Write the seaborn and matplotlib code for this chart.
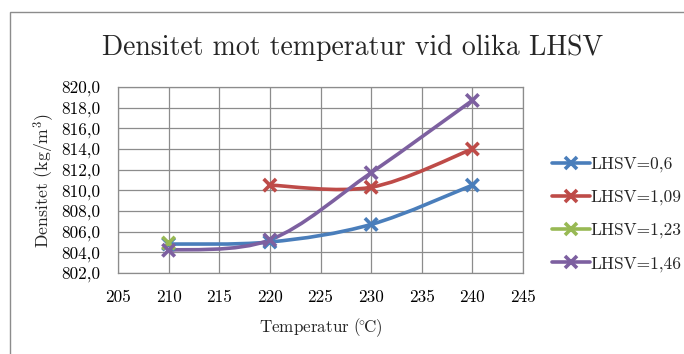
import matplotlib
matplotlib.use("Agg")
import matplotlib.pyplot as plt
from matplotlib.path import Path
from matplotlib.patches import PathPatch, Rectangle
from matplotlib.lines import Line2D
from matplotlib.ticker import FuncFormatter, MultipleLocator
import numpy as np
import pandas as pd
import seaborn as sns

# Measured densities per LHSV setting
temp_06 = [210, 220, 230, 240]
dens_06 = [804.8, 805.0, 806.7, 810.5]
temp_109 = [220, 230, 240]
dens_109 = [810.5, 810.3, 814.0]
temp_123 = [210]
dens_123 = [804.9]
temp_146 = [210, 220, 230, 240]
dens_146 = [804.2, 805.2, 811.7, 818.7]

labels = ["LHSV=0,6", "LHSV=1,09", "LHSV=1,23", "LHSV=1,46"]
colors = ["#4A7EBB", "#BE4B48", "#98B954", "#7D60A0"]

frames = []
for lab, t, d in zip(labels, [temp_06, temp_109, temp_123, temp_146],
                     [dens_06, dens_109, dens_123, dens_146]):
    frames.append(pd.DataFrame({"Temperatur": t, "Densitet": d, "Serie": lab}))
df = pd.concat(frames, ignore_index=True)

sns.set_theme(style="white")
plt.rcParams["font.family"] = ["cmr10"]
plt.rcParams["mathtext.fontset"] = "cm"
plt.rcParams["axes.formatter.use_mathtext"] = True
plt.rcParams["axes.unicode_minus"] = False

fig = plt.figure(figsize=(6.84, 3.54), dpi=100)
W, H = 684, 354
ax = fig.add_axes([118 / W, 1 - 273 / H, (523 - 118) / W, (273 - 87) / H])

# outer chart frame
fig.add_artist(Rectangle((10 / W, -0.2), 1.2, 1 - 12 / H + 0.2,
                         transform=fig.transFigure, fill=False,
                         edgecolor="#8C8C8C", lw=1.0))


def smooth_path(xs, ys):
    """Cardinal (Catmull-Rom) Bezier path through the points."""
    pts = np.column_stack([xs, ys]).astype(float)
    n = len(pts)
    verts = [pts[0]]
    codes = [Path.MOVETO]
    for i in range(n - 1):
        p0 = pts[i - 1] if i > 0 else pts[i]
        p1 = pts[i]
        p2 = pts[i + 1]
        p3 = pts[i + 2] if i + 2 < n else pts[i + 1]
        c1 = p1 + (p2 - p0) / 6.0
        c2 = p2 - (p3 - p1) / 6.0
        verts += [c1, c2, p2]
        codes += [Path.CURVE4] * 3
    return Path(verts, codes)


# smoothed connecting lines
for lab, col in zip(labels, colors):
    sub = df[df["Serie"] == lab]
    if len(sub) > 1:
        ax.add_patch(PathPatch(smooth_path(sub["Temperatur"], sub["Densitet"]),
                               fill=False, edgecolor=col, lw=2.6,
                               capstyle="round", joinstyle="round", zorder=3))

# markers
sns.scatterplot(data=df, x="Temperatur", y="Densitet", hue="Serie",
                palette=colors, hue_order=labels, marker="x", s=80,
                linewidth=2.6, ax=ax, legend=False, zorder=4)

ax.set_xlim(205, 245)
ax.set_ylim(802, 820)
ax.xaxis.set_major_locator(MultipleLocator(5))
ax.yaxis.set_major_locator(MultipleLocator(2))
ax.xaxis.set_major_formatter(FuncFormatter(lambda v, p: f"{v:.0f}"))
ax.yaxis.set_major_formatter(FuncFormatter(lambda v, p: f"{v:.1f}".replace(".", ",")))
ax.grid(True, color="#8C8C8C", lw=0.9)
ax.set_axisbelow(True)
for s in ax.spines.values():
    s.set_color("#8C8C8C")
    s.set_linewidth(0.9)
ax.tick_params(axis="both", length=0, labelsize=12.3, colors="black")
ax.tick_params(axis="x", pad=12)
ax.tick_params(axis="y", pad=13)

ax.set_xlabel(r"Temperatur ($\!^{\circ}\!$C)", fontsize=12.3, labelpad=8)
ax.set_ylabel(r"Densitet (kg/m$^3$)", fontsize=12.8, labelpad=3)

fig.text(353 / W, 1 - 48 / H, "Densitet mot temperatur vid olika LHSV",
         ha="center", va="center", fontsize=20)

handles = [Line2D([], [], color=c, lw=2.6, marker="x", markersize=9,
                  markeredgewidth=2.6) for c in colors]
fig.legend(handles, labels, loc="center left",
           bbox_to_anchor=(536 / W, 1 - 214 / H), frameon=False,
           fontsize=12.5, handlelength=2.2, handletextpad=0.05,
           labelspacing=1.0)

fig.savefig("out.png", dpi=100)
